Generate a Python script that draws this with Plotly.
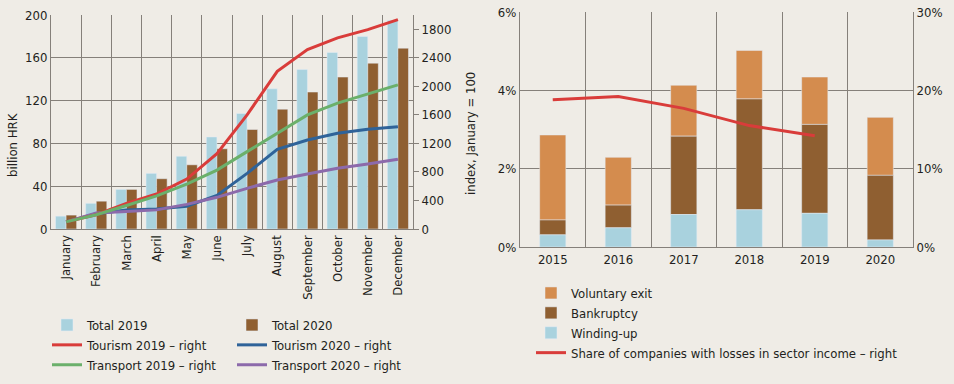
import plotly.graph_objects as go
import numpy as np

# ---------------- data: left chart ----------------
months = ["January", "February", "March", "April", "May", "June", "July",
          "August", "September", "October", "November", "December"]
total_2019 = [12, 24, 37, 52, 68, 86, 108, 131, 149, 165, 180, 195]
total_2020 = [13, 26, 37, 47, 60, 75, 93, 112, 128, 142, 155, 169]
tourism_2019 = [100, 200, 360, 490, 700, 1055, 1600, 2210, 2515, 2680, 2795, 2935]
tourism_2020 = [100, 215, 265, 280, 320, 470, 780, 1117, 1248, 1341, 1397, 1434]
transport_2019 = [100, 200, 330, 465, 630, 825, 1085, 1340, 1600, 1765, 1890, 2020]
transport_2020 = [100, 224, 245, 268, 345, 444, 570, 687, 771, 851, 911, 977]
right_ticks = [0, 400, 800, 1200, 1600, 2000, 2400, 2800]
right_ticktext = ["0", "400", "800", "1200", "1600", "2000", "2400", "1800"]

# ---------------- data: right chart ----------------
years = ["2015", "2016", "2017", "2018", "2019", "2020"]
winding_up = [0.31, 0.49, 0.83, 0.95, 0.86, 0.18]
bankruptcy = [0.38, 0.58, 2.00, 2.83, 2.27, 1.65]
voluntary_exit = [2.17, 1.22, 1.30, 1.24, 1.21, 1.48]
loss_years = ["2015", "2016", "2017", "2018", "2019"]
loss_share = [18.8, 19.2, 17.7, 15.5, 14.2]
left_pct_ticks = [0, 2, 4, 6]
left_pct_text = ["0%", "2%", "4%", "6%"]
right_pct_ticks = [0, 10, 20, 30]
right_pct_text = ["0%", "10%", "20%", "30%"]

# ---------------- styles ----------------
BG = "#efece6"
TXT = "#231f20"
GRID = "#85807a"
FONT = "DejaVu Sans Condensed, Liberation Sans Narrow, sans-serif"
FS = 13
C_LB = "#a9d2de"
C_BR = "#8f5f31"
C_OR = "#d48c4e"
C_RED = "#d93c3a"
C_BLUE = "#2f6399"
C_GREEN = "#6bb06b"
C_PURPLE = "#8c6aab"

fig = go.Figure()

# left chart bars
fig.add_trace(go.Bar(x=months, y=total_2019, name="Total 2019", marker_color=C_LB,
                     width=0.35, offset=-0.35, xaxis="x", yaxis="y", legend="legend"))
fig.add_trace(go.Bar(x=months, y=total_2020, name="Total 2020", marker_color=C_BR,
                     width=0.35, offset=0.0, xaxis="x", yaxis="y", legend="legend2"))
# left chart lines (right axis)
fig.add_trace(go.Scatter(x=months, y=tourism_2020, name="Tourism 2020 \u2013 right", mode="lines",
                         line=dict(color=C_BLUE, width=3), xaxis="x", yaxis="y2", legend="legend2"))
fig.add_trace(go.Scatter(x=months, y=transport_2020, name="Transport 2020 \u2013 right", mode="lines",
                         line=dict(color=C_PURPLE, width=3), xaxis="x", yaxis="y2", legend="legend2"))
fig.add_trace(go.Scatter(x=months, y=tourism_2019, name="Tourism 2019 \u2013 right", mode="lines",
                         line=dict(color=C_RED, width=3), xaxis="x", yaxis="y2", legend="legend"))
fig.add_trace(go.Scatter(x=months, y=transport_2019, name="Transport 2019 \u2013 right", mode="lines",
                         line=dict(color=C_GREEN, width=3), xaxis="x", yaxis="y2", legend="legend"))

# right chart stacked bars (manual stacking via base)
base_bank = np.array(winding_up)
base_vol = base_bank + np.array(bankruptcy)
fig.add_trace(go.Bar(x=years, y=voluntary_exit, base=base_vol, name="Voluntary exit",
                     marker_color=C_OR, width=0.4, xaxis="x2", yaxis="y3", legend="legend3"))
fig.add_trace(go.Bar(x=years, y=bankruptcy, base=base_bank, name="Bankruptcy",
                     marker_color=C_BR, width=0.4, xaxis="x2", yaxis="y3", legend="legend3"))
fig.add_trace(go.Bar(x=years, y=winding_up, name="Winding-up",
                     marker_color=C_LB, width=0.4, xaxis="x2", yaxis="y3", legend="legend3"))
fig.add_trace(go.Scatter(x=loss_years, y=loss_share,
                         name="Share of companies with losses in sector income \u2013 right",
                         mode="lines", line=dict(color=C_RED, width=3),
                         xaxis="x2", yaxis="y4", legend="legend3"))

W, H = 954, 384
def px_x(v):
    return v / W
def px_y(v):
    return 1 - v / H

axis_common = dict(showline=True, linecolor=GRID, linewidth=1, zeroline=False,
                   tickfont=dict(family=FONT, size=FS, color=TXT), automargin=False)

legend_common = dict(bgcolor="rgba(0,0,0,0)", font=dict(family=FONT, size=FS, color=TXT),
                     orientation="v", xanchor="left", yanchor="top", tracegroupgap=0,
                     itemclick=False, traceorder="normal")

fig.update_layout(
    width=W, height=H, autosize=False,
    margin=dict(l=0, r=0, t=0, b=0),
    paper_bgcolor=BG, plot_bgcolor=BG,
    barmode="overlay",
    font=dict(family=FONT, size=FS, color=TXT),
    xaxis=dict(domain=[px_x(51), px_x(413)], type="category", tickson="boundaries",
               showgrid=True, gridcolor=GRID, gridwidth=1, tickangle=-90,
               ticks="", anchor="y", mirror=False, **axis_common),
    yaxis=dict(domain=[px_y(229), px_y(15)], range=[0, 200], tickvals=[0, 40, 80, 120, 160, 200],
               showgrid=True, gridcolor=GRID, gridwidth=1, ticks="", anchor="x", **axis_common),
    yaxis2=dict(overlaying="y", side="right", range=[0, 3000], tickvals=right_ticks,
                ticktext=right_ticktext, showgrid=False, ticks="outside", ticklen=5,
                tickcolor=GRID, anchor="x", **axis_common),
    xaxis2=dict(domain=[px_x(520), px_x(913)], type="category", tickson="boundaries",
                showgrid=True, gridcolor=GRID, gridwidth=1, ticks="", anchor="y3", **axis_common),
    yaxis3=dict(domain=[px_y(247), px_y(12)], range=[0, 6], tickvals=left_pct_ticks,
                ticktext=left_pct_text,
                showgrid=True, gridcolor=GRID, gridwidth=1, ticks="", anchor="x2", **axis_common),
    yaxis4=dict(overlaying="y3", side="right", range=[0, 30], tickvals=right_pct_ticks,
                ticktext=right_pct_text, showgrid=False, ticks="", anchor="x2", **axis_common),
    legend=dict(x=px_x(47), y=px_y(310), **legend_common),
    legend2=dict(x=px_x(232), y=px_y(310), **legend_common),
    legend3=dict(x=px_x(531), y=px_y(278), **legend_common),
    showlegend=True,
    annotations=[
        dict(text="billion HRK", x=px_x(12), y=px_y(145), xref="paper", yref="paper",
             textangle=-90, showarrow=False, xanchor="center", yanchor="middle",
             font=dict(family=FONT, size=FS, color=TXT)),
        dict(text="index, January = 100", x=px_x(471), y=px_y(134), xref="paper", yref="paper",
             textangle=-90, showarrow=False, xanchor="center", yanchor="middle",
             font=dict(family=FONT, size=FS, color=TXT)),
    ],
)

fig.write_html("out.html", post_script="document.body.style.margin='0px';",
               config={"displayModeBar": False})
